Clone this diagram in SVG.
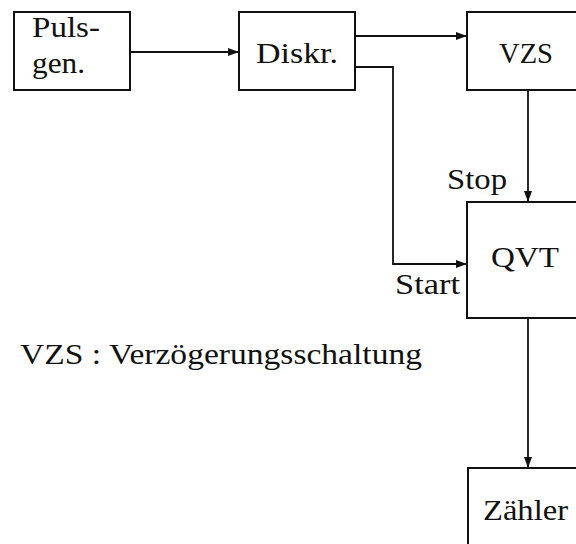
<svg xmlns="http://www.w3.org/2000/svg" width="576" height="544" viewBox="0 0 576 544">
<style>
.box{fill:none;stroke:#111;stroke-width:2}
.wire{fill:none;stroke:#111;stroke-width:1.8}
</style>
<defs>
<marker id="arr" viewBox="0 0 11 8" refX="11" refY="4" markerWidth="11" markerHeight="8" markerUnits="userSpaceOnUse" orient="auto">
<path d="M0,0 L11,4 L0,8 z" fill="#111"/>
</marker>
</defs>
<rect width="576" height="544" fill="#fff"/>
<g id="connectors">
<path class="wire" d="M130,52 H239" marker-end="url(#arr)"/>
<path class="wire" d="M355,36 H467" marker-end="url(#arr)"/>
<path class="wire" d="M355,67 H393 V264 H467" marker-end="url(#arr)"/>
<path class="wire" d="M528,90 V202" marker-end="url(#arr)"/>
<path class="wire" d="M528,318 V468" marker-end="url(#arr)"/>
</g>
<g font-family="Liberation Serif, DejaVu Serif, Times New Roman, Times, serif" font-size="30" fill="#111">
<g id="pulsgen">
<rect class="box" x="14" y="12" width="116" height="78"/>
<text x="32" y="37" textLength="68" lengthAdjust="spacingAndGlyphs">Puls-</text>
<text x="32" y="73" textLength="53" lengthAdjust="spacingAndGlyphs">gen.</text>
</g>
<g id="diskr">
<rect class="box" x="239" y="12" width="116" height="78"/>
<text x="256" y="63" textLength="82" lengthAdjust="spacingAndGlyphs">Diskr.</text>
</g>
<g id="vzs">
<rect class="box" x="467" y="12" width="130" height="78"/>
<text x="499" y="63" textLength="54" lengthAdjust="spacingAndGlyphs">VZS</text>
</g>
<g id="qvt">
<rect class="box" x="467" y="202" width="130" height="116"/>
<text x="491" y="267" textLength="68" lengthAdjust="spacingAndGlyphs">QVT</text>
</g>
<g id="zaehler">
<rect class="box" x="468" y="468" width="130" height="100"/>
<text x="483" y="520" textLength="85" lengthAdjust="spacingAndGlyphs">Zähler</text>
</g>
<g id="labels">
<text x="447" y="189" textLength="60" lengthAdjust="spacingAndGlyphs">Stop</text>
<text x="395" y="294" textLength="65" lengthAdjust="spacingAndGlyphs">Start</text>
<text x="20" y="364" textLength="402" lengthAdjust="spacingAndGlyphs">VZS : Verzögerungsschaltung</text>
</g>
</g>
</svg>
